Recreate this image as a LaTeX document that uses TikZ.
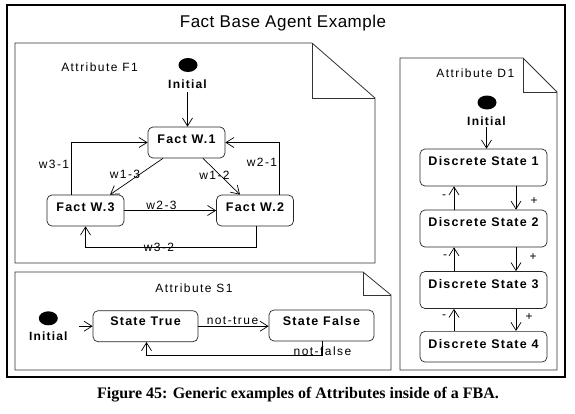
\documentclass[tikz,border=0pt]{standalone}
\usepackage{fontspec}
\setmainfont{Liberation Sans}
\newfontfamily\spfont[LetterSpace=12]{Liberation Sans}
\newfontfamily\inifont[LetterSpace=10]{Liberation Sans}
\newfontfamily\stfont[LetterSpace=10]{Liberation Sans}
\newfontfamily\ttlfont[LetterSpace=3]{Liberation Sans}
\newfontfamily\capfont{Liberation Serif}
\usetikzlibrary{arrows.meta,shapes.geometric}
\begin{document}
\begin{tikzpicture}[x=1pt,y=-1pt,
  frame/.style={draw=black,line width=1.1pt},
  note/.style={draw=black!80,line width=0.8pt},
  state/.style={draw=black!85,line width=0.7pt,rounded corners=5pt,inner xsep=0pt,inner ysep=0pt,
    font=\stfont\bfseries\fontsize{12.5}{14}\selectfont},
  fw/.style={state,minimum width=77pt,text height=16pt,text depth=15pt},
  ds/.style={state,minimum width=127pt,text height=16.7pt,text depth=20.3pt},
  sts/.style={state,minimum width=105pt,text height=15pt,text depth=16pt},
  dot/.style={ellipse,fill=black,minimum width=19pt,minimum height=14pt,inner sep=0pt},
  initlbl/.style={font=\inifont\bfseries\fontsize{12}{14}\selectfont,inner sep=0pt},
  lbl/.style={font=\spfont\fontsize{12}{14}\selectfont,inner sep=0pt},
  conn/.style={draw=black,line width=0.7pt,-{Straight Barb[length=8pt,width=10pt]}}
]
\useasboundingbox (0,0) rectangle (575,413);
\fill[white] (0,0) rectangle (575,413);

% outer frame and title
\draw[frame] (7,5) rectangle (565,377);
\node[font=\ttlfont\fontsize{17}{20}\selectfont] (title) at (283,23) {Fact Base Agent Example};

% notes
\draw[note] (15,43) -- (312,43) -- (375,98) -- (375,263) -- (15,263) -- cycle;
\draw[note] (312,43) -- (312,98) -- (375,98);
\draw[note] (15,272) -- (363,272) -- (391,295) -- (391,370) -- (15,370) -- cycle;
\draw[note] (363,272) -- (363,295) -- (391,295);
\draw[note] (400,58) -- (523,58) -- (557,92) -- (557,370) -- (400,370) -- cycle;
\draw[note] (523,58) -- (523,92) -- (557,92);

% ---------- Attribute F1
\node[lbl] (af1) at (99.5,67) {Attribute F1};
\node[dot] (i1) at (188,65) {};
\node[initlbl] (i1l) at (187.5,84) {Initial};
\node[fw] (w1) at (186.5,142.5) {Fact W.1};
\node[fw] (w3) at (85.5,210.5) {Fact W.3};
\node[fw] (w2) at (255,210.5) {Fact W.2};

\draw[conn] ([yshift=-3pt]i1l.south) -- (i1l.south |- w1.north);
\draw[conn] ([xshift=-14.5pt]w3.north) |- (w1.west);
\draw[conn] ([xshift=24pt]w2.north) |- (w1.east);
\draw[conn] ([xshift=-23.5pt]w1.south) -- ([xshift=24.5pt]w3.north);
\draw[conn] ([xshift=16.5pt]w1.south) -- ([xshift=-15pt]w2.north);
\draw[conn] (w3.east) -- (w2.west);
\draw[conn] ([xshift=1pt]w2.south) -- ++(0,21) -| (w3.south);

\node[lbl] (l31) at (54,164) {w3-1};
\node[lbl] (l21) at (262,162) {w2-1};
\node[lbl] (l13) at (125,174) {w1-3};
\node[lbl] (l12) at (214.5,175) {w1-2};
\node[lbl] (l23) at (161.5,205) {w2-3};
\node[lbl] (l32) at (159,247) {w3-2};

% ---------- Attribute S1
\node[lbl] (as1) at (194,288.7) {Attribute S1};
\node[dot] (i2) at (48.3,318.3) {};
\node[initlbl] (i2l) at (48.3,336.7) {Initial};
\node[sts] (st) at (145.5,326.2) {State True};
\node[sts] (sf) at (321.5,325.5) {State False};
\coordinate (si) at (79,326.2);

\draw[conn] (si) -- (st.west);
\draw[conn] (st.east) -- (st.east -| sf.west);
\draw[conn] ([xshift=1pt]sf.south) -- ++(0,14) -| ([xshift=1pt]st.south);

\node[lbl] (lnt) at (232.5,320.7) {not-true};
\node[lbl] (lnf) at (322.5,351.7) {not-false};

% ---------- Attribute D1
\node[lbl] (ad1) at (475.3,73.3) {Attribute D1};
\node[dot] (i3) at (487,102.5) {};
\node[initlbl] (i3l) at (486.5,121.3) {Initial};
\node[ds] (ds1) at (483.5,167.5) {Discrete State 1};
\node[ds] (ds2) at (483.5,228.5) {Discrete State 2};
\node[ds] (ds3) at (483.5,290) {Discrete State 3};
\node[ds,text depth=14pt] (ds4) at (483.5,346.7) {Discrete State 4};

\draw[conn] ([yshift=-1pt]i3l.south) -- (i3l.south |- ds1.north);
\draw[conn] ([xshift=32.5pt]ds1.south) -- ([xshift=32.5pt]ds2.north);
\draw[conn] ([xshift=32.5pt]ds2.south) -- ([xshift=32.5pt]ds3.north);
\draw[conn] ([xshift=32.5pt]ds3.south) -- ([xshift=32.5pt]ds4.north);
\draw[conn] ([xshift=-29.5pt]ds2.north) -- ([xshift=-29.5pt]ds1.south);
\draw[conn] ([xshift=-29.5pt]ds3.north) -- ([xshift=-29.5pt]ds2.south);
\draw[conn] ([xshift=-29.5pt]ds4.north) -- ([xshift=-29.5pt]ds3.south);

\node[lbl] (p1) at (534,201) {+};
\node[lbl] (p2) at (533,257) {+};
\node[lbl] (p3) at (529,317) {+};
\node[lbl] (m1) at (444,197) {-};
\node[lbl] (m2) at (445,257) {-};
\node[lbl] (m3) at (444,317) {-};

% caption
\node[font=\capfont\bfseries\fontsize{16}{19}\selectfont] (cap) at (298,395)
  {Figure 45: Generic examples of Attributes inside of a FBA.};
\end{tikzpicture}
\end{document}
